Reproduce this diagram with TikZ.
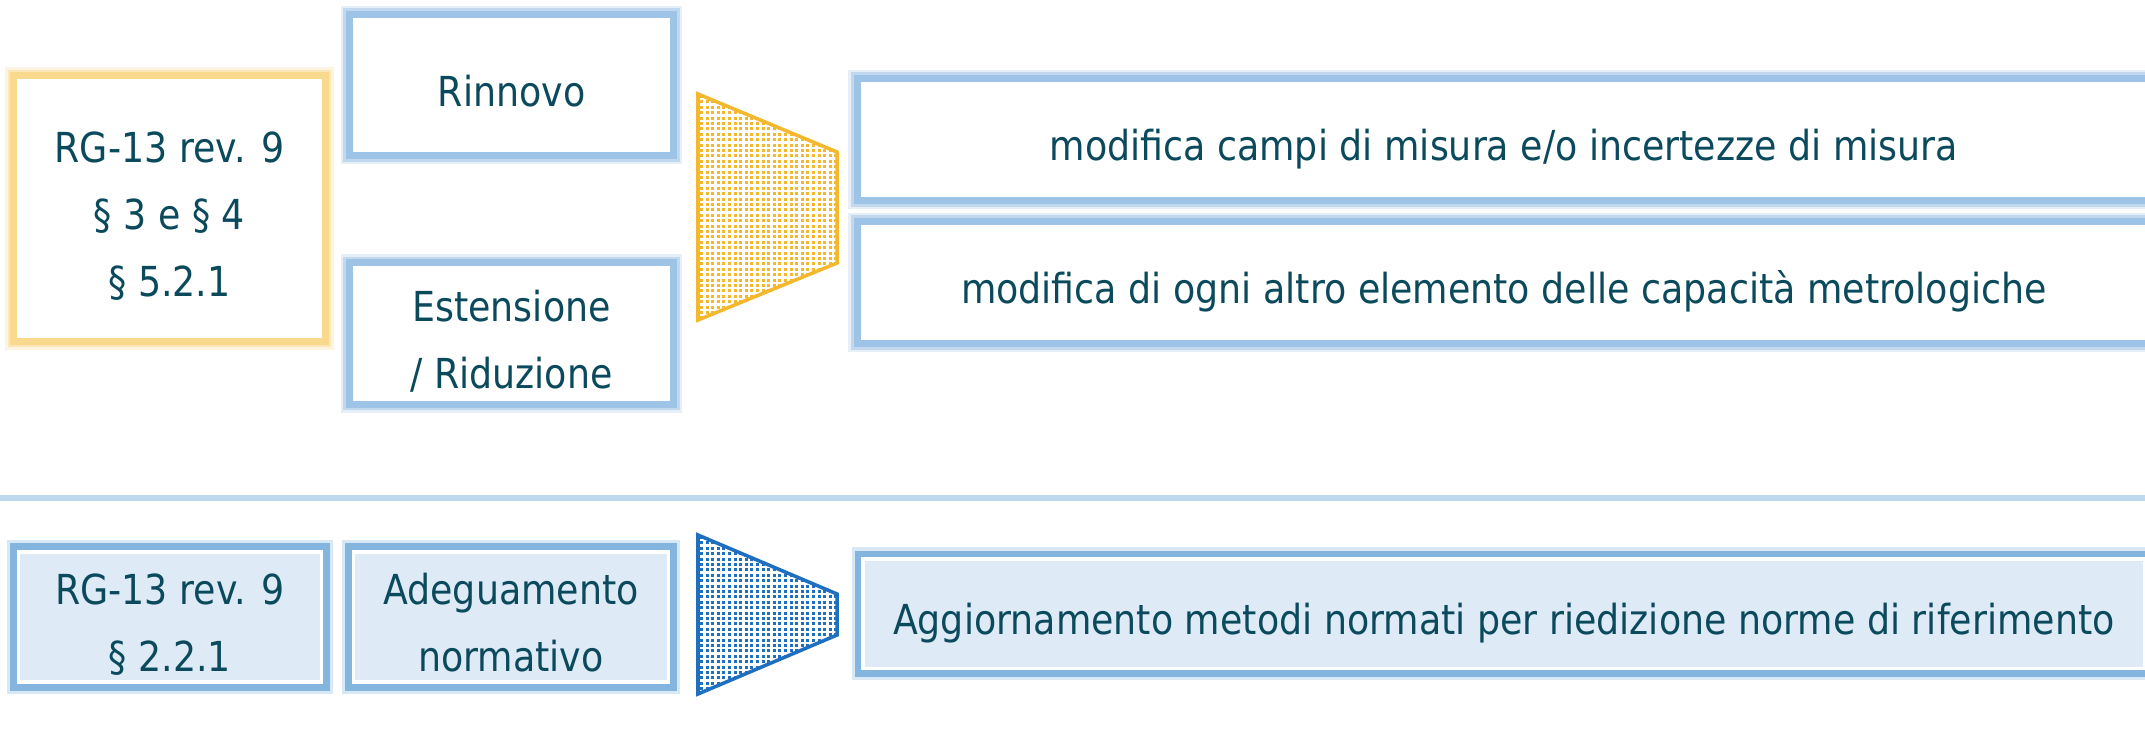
\documentclass[tikz,border=0pt]{standalone}
\usepackage{fontspec}
\setmainfont{DejaVu Sans}[FakeStretch=0.88]
\usepackage{tikz}
\definecolor{txtcol}{HTML}{0B4A5C}
\definecolor{goldband}{HTML}{F8D98E}
\definecolor{goldline}{HTML}{F4B82F}
\definecolor{skyband}{HTML}{9DC3E6}
\definecolor{normband}{HTML}{84B5DF}
\definecolor{normfill}{HTML}{DEEBF7}
\definecolor{sepcol}{HTML}{BDD7EE}
\definecolor{blueline}{HTML}{1F6FC0}
\newcommand\tbtop{\rule{0pt}{15pt}}
\newcommand\tbbot{\rule[-3pt]{0pt}{3pt}}

\begin{document}
\begin{tikzpicture}[x=0.01cm,y=-0.01cm,
  every node/.style={inner sep=0pt,outer sep=0pt,align=center,text=txtcol,
    font=\fontsize{11.75pt}{19.06pt}\selectfont},
  rgbox/.style={draw=goldband,line width=2pt,fill=white,
    preaction={draw=goldband,opacity=.25,line width=5pt},
    preaction={draw=goldband,opacity=.5,line width=3.4pt}},
  opbox/.style={draw=skyband,line width=2pt,fill=white,
    preaction={draw=skyband,opacity=.25,line width=5pt},
    preaction={draw=skyband,opacity=.5,line width=3.4pt}},
  normbox/.style={draw=white,line width=1pt,fill=normfill,
    preaction={draw=normband,opacity=.3,line width=6.6pt},
    preaction={draw=normband,line width=4.8pt}},
  trapline/.style={line width=1pt,line join=miter}]
\useasboundingbox (0,0) rectangle (2145,733);
\fill[white] (0,0) rectangle (2145,733);

\node[rgbox,minimum width=3.11cm,minimum height=2.65cm] (rgtop) at (169.5,208.5) {\tbtop RG-13 rev. 9\\§ 3 e § 4\\§ 5.2.1\tbbot};
\node[opbox,minimum width=3.24cm,minimum height=1.41cm] (rinnovo) at (511.5,85) {\tbtop Rinnovo\tbbot};
\node[opbox,minimum width=3.24cm,minimum height=1.41cm] (estensione) at (511.5,333.5) {\tbtop Estensione\\/ Riduzione\tbbot};

\begin{scope}
\clip (698,94) -- (837,152) -- (837,263) -- (698,320) -- cycle;
\foreach \i in {0,...,25}
\foreach \j in {0,...,42}
\fill[goldline] ({700+5.6*\i},{95+5.4*\j}) rectangle ++(3,3);
\end{scope}
\draw[goldline,trapline] (698,94) -- (837,152) -- (837,263) -- (698,320) -- cycle;

\node[opbox,minimum width=12.925cm,minimum height=1.22cm] (campi) at (1503.75,139.5) {\tbtop modifica campi di misura e/o incertezze di misura\tbbot};
\node[opbox,minimum width=12.925cm,minimum height=1.22cm] (capacita) at (1503.75,282.5) {\tbtop modifica di ogni altro elemento delle capacità metrologiche\tbbot};

\coordinate (sepL) at (0,498);
\coordinate (sepR) at (2145,498);
\draw[sepcol,line width=1.7pt] (sepL) -- (sepR);

\node[normbox,minimum width=3.03cm,minimum height=1.28cm] (rgbot) at (170,617) {\tbtop RG-13 rev. 9\\§ 2.2.1\tbbot};
\node[normbox,minimum width=3.15cm,minimum height=1.28cm] (adeguamento) at (511,617) {\tbtop Adeguamento\\normativo\tbbot};

\begin{scope}
\clip (698,535) -- (837,594) -- (837,635) -- (698,694) -- cycle;
\foreach \i in {0,...,25}
\foreach \j in {0,...,30}
\fill[blueline] ({700+5.6*\i},{536+5.4*\j}) rectangle ++(3,3);
\end{scope}
\draw[blueline,trapline] (698,535) -- (837,594) -- (837,635) -- (698,694) -- cycle;

\node[normbox,minimum width=12.805cm,minimum height=1.095cm] (aggiornamento) at (1503.75,613.75) {\tbtop Aggiornamento metodi normati per riedizione norme di riferimento\tbbot};
\end{tikzpicture}
\end{document}
